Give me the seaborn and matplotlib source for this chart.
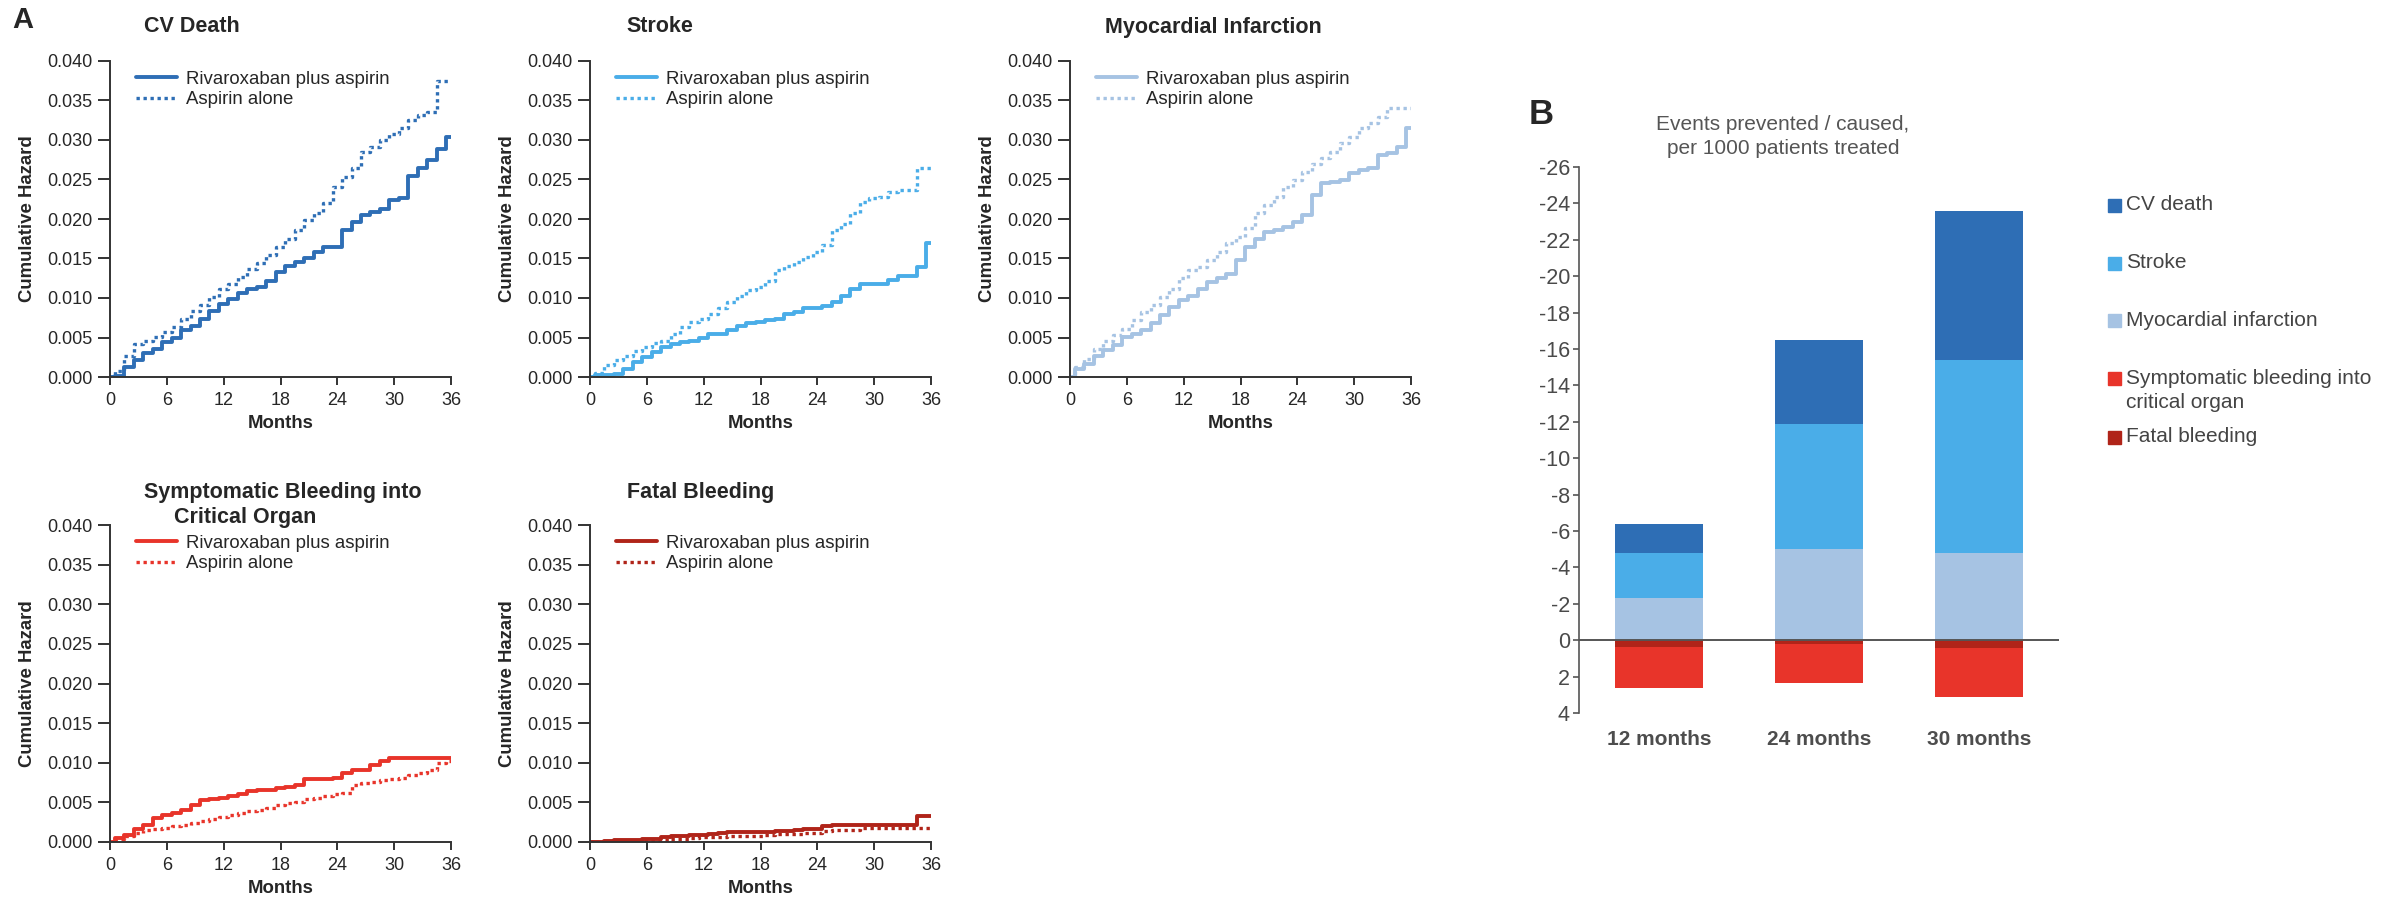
import numpy as np
import matplotlib
matplotlib.use('Agg')
import matplotlib.pyplot as plt
from matplotlib.patches import Rectangle
from matplotlib.ticker import FormatStrFormatter
import seaborn as sns

# ---- data (cumulative hazard, monthly) ----
months = list(range(37))

cv_riva = [0, 0.0001, 0.0013, 0.0021, 0.0030, 0.0036, 0.0044, 0.0049, 0.0059, 0.0065,
           0.0074, 0.0084, 0.0093, 0.0099, 0.0106, 0.0112, 0.0114, 0.0122, 0.0133, 0.0141,
           0.0146, 0.0150, 0.0158, 0.0164, 0.0165, 0.0186, 0.0196, 0.0205, 0.0209, 0.0213,
           0.0224, 0.0226, 0.0255, 0.0264, 0.0275, 0.0289, 0.0304]
cv_asp = [0, 0.0008, 0.0027, 0.0042, 0.0046, 0.0051, 0.0057, 0.0063, 0.0074, 0.0084,
          0.0091, 0.0101, 0.0112, 0.0118, 0.0127, 0.0137, 0.0144, 0.0154, 0.0165, 0.0175,
          0.0186, 0.0199, 0.0207, 0.0220, 0.0241, 0.0253, 0.0264, 0.0285, 0.0291, 0.0300,
          0.0308, 0.0315, 0.0325, 0.0332, 0.0336, 0.0375, 0.0375]

stroke_riva = [0, 0.0002, 0.0003, 0.0004, 0.0010, 0.0019, 0.0025, 0.0032, 0.0038, 0.0042,
               0.0044, 0.0046, 0.0049, 0.0055, 0.0055, 0.0059, 0.0064, 0.0068, 0.0070, 0.0072,
               0.0074, 0.0080, 0.0082, 0.0087, 0.0087, 0.0090, 0.0095, 0.0103, 0.0111, 0.0118,
               0.0118, 0.0118, 0.0123, 0.0128, 0.0128, 0.0139, 0.0170]
stroke_asp = [0, 0.0005, 0.0015, 0.0021, 0.0027, 0.0033, 0.0038, 0.0043, 0.0046, 0.0055,
              0.0063, 0.0070, 0.0074, 0.0080, 0.0087, 0.0095, 0.0103, 0.0110, 0.0114, 0.0122,
              0.0135, 0.0141, 0.0146, 0.0152, 0.0158, 0.0167, 0.0186, 0.0194, 0.0207, 0.0222,
              0.0226, 0.0228, 0.0234, 0.0237, 0.0237, 0.0264, 0.0264]

mi_riva = [0, 0.0010, 0.0017, 0.0027, 0.0034, 0.0040, 0.0051, 0.0055, 0.0059, 0.0068,
           0.0078, 0.0089, 0.0097, 0.0103, 0.0112, 0.0120, 0.0125, 0.0131, 0.0148, 0.0165,
           0.0175, 0.0184, 0.0186, 0.0190, 0.0196, 0.0205, 0.0230, 0.0245, 0.0247, 0.0249,
           0.0258, 0.0262, 0.0264, 0.0281, 0.0283, 0.0291, 0.0315]
mi_asp = [0, 0.0013, 0.0023, 0.0036, 0.0046, 0.0053, 0.0061, 0.0072, 0.0082, 0.0091,
          0.0101, 0.0112, 0.0125, 0.0135, 0.0139, 0.0148, 0.0158, 0.0169, 0.0177, 0.0188,
          0.0207, 0.0218, 0.0228, 0.0241, 0.0249, 0.0260, 0.0270, 0.0277, 0.0285, 0.0296,
          0.0304, 0.0315, 0.0321, 0.0329, 0.0340, 0.0340, 0.0340]

crit_riva = [0, 0.0005, 0.0009, 0.0016, 0.0022, 0.0030, 0.0034, 0.0037, 0.0041, 0.0047,
             0.0053, 0.0054, 0.0055, 0.0058, 0.0061, 0.0064, 0.0065, 0.0066, 0.0068, 0.0070,
             0.0072, 0.0079, 0.0080, 0.0080, 0.0081, 0.0087, 0.0091, 0.0091, 0.0097, 0.0102,
             0.0106, 0.0106, 0.0106, 0.0106, 0.0106, 0.0106, 0.0106]
crit_asp = [0, 0.0004, 0.0007, 0.0011, 0.0015, 0.0016, 0.0018, 0.0020, 0.0022, 0.0024,
            0.0027, 0.0029, 0.0032, 0.0034, 0.0036, 0.0039, 0.0041, 0.0043, 0.0047, 0.0049,
            0.0051, 0.0054, 0.0055, 0.0058, 0.0060, 0.0062, 0.0072, 0.0074, 0.0076, 0.0078,
            0.0079, 0.0081, 0.0085, 0.0087, 0.0091, 0.0100, 0.0102]

fatal_riva = [0, 0, 0.0001, 0.0002, 0.0002, 0.0003, 0.0004, 0.0004, 0.0006, 0.0008,
              0.0008, 0.0009, 0.0009, 0.0010, 0.0011, 0.0012, 0.0012, 0.0012, 0.0012, 0.0013,
              0.0014, 0.0014, 0.0015, 0.0016, 0.0016, 0.0020, 0.0022, 0.0022, 0.0022, 0.0022,
              0.0022, 0.0022, 0.0022, 0.0022, 0.0022, 0.0033, 0.0033]
fatal_asp = [0, 0, 0, 0.0001, 0.0001, 0.0001, 0.0002, 0.0002, 0.0003, 0.0004,
             0.0004, 0.0005, 0.0006, 0.0006, 0.0006, 0.0007, 0.0007, 0.0008, 0.0008, 0.0009,
             0.0010, 0.0010, 0.0010, 0.0011, 0.0011, 0.0014, 0.0015, 0.0015, 0.0015, 0.0018,
             0.0018, 0.0018, 0.0018, 0.0018, 0.0018, 0.0018, 0.0018]

# panel B: events per 1000 patients (prevented shown as negative)
periods = ['12 months', '24 months', '30 months']
mi_prev = [2.3, 5.0, 4.8]
stroke_prev = [2.5, 6.9, 10.6]
cv_prev = [1.6, 4.6, 8.2]
crit_caused = [2.25, 2.15, 2.65]
fatal_caused = [0.35, 0.2, 0.45]

c_cv, c_stroke, c_mi = '#2E6EB5', '#4AADE8', '#A6C3E3'
c_crit, c_fatal = '#E8342A', '#B02419'

sns.set_style('ticks')
plt.rcParams['font.family'] = ['Liberation Sans', 'DejaVu Sans']
plt.rcParams['axes.unicode_minus'] = False

W, H = 2402, 898
fig = plt.figure(figsize=(W / 100, H / 100), dpi=100)


def box(l, t, r, b):
    return [l / W, 1 - b / H, (r - l) / W, (b - t) / H]


def ftext(x, y, s, **kw):
    fig.text(x / W, 1 - y / H, s, **kw)


def km_panel(rect, riva, asp, color):
    ax = fig.add_axes(box(*rect))
    sns.lineplot(x=months, y=riva, ax=ax, color=color, lw=2.8, drawstyle='steps-mid',
                 label='Rivaroxaban plus aspirin')
    sns.lineplot(x=months, y=asp, ax=ax, color=color, lw=2.4, ls=(0, (1, 1.1)),
                 drawstyle='steps-mid', label='Aspirin alone')
    ax.set_xlim(0, 36)
    ax.set_ylim(0, 0.04)
    ax.set_xticks(range(0, 37, 6))
    ax.set_yticks(np.arange(0, 0.0401, 0.005))
    ax.yaxis.set_major_formatter(FormatStrFormatter('%.3f'))
    ax.tick_params(axis='y', length=8.5, width=1.4, labelsize=13, pad=4, color='#333333')
    ax.tick_params(axis='x', length=5.5, width=1.4, labelsize=13, pad=5, color='#333333')
    sns.despine(ax=ax)
    for s in ('left', 'bottom'):
        ax.spines[s].set_linewidth(1.4)
        ax.spines[s].set_color('#333333')
    ax.set_xlabel('Months', fontsize=13.4, fontweight='bold')
    ax.set_ylabel('Cumulative Hazard', fontsize=13.4, fontweight='bold')
    ax.xaxis.set_label_coords(0.5, -0.12)
    ax.yaxis.set_label_coords(-0.217, 0.5)
    ax.legend(loc='upper left', bbox_to_anchor=(0.075, 0.97), frameon=False, fontsize=13.4,
              handlelength=2.2, handletextpad=0.5, labelspacing=0.2, borderpad=0,
              borderaxespad=0)
    return ax


km_panel((110, 61, 451, 377), cv_riva, cv_asp, c_cv)
km_panel((590, 61, 931, 377), stroke_riva, stroke_asp, c_stroke)
km_panel((1070, 61, 1411, 377), mi_riva, mi_asp, c_mi)
km_panel((110, 525, 451, 842), crit_riva, crit_asp, c_crit)
km_panel((590, 525, 931, 842), fatal_riva, fatal_asp, c_fatal)

tkw = dict(fontsize=15.5, fontweight='bold', ha='left', va='center')
ftext(144, 27, 'CV Death', **tkw)
ftext(626, 27, 'Stroke', **tkw)
ftext(1105, 27, 'Myocardial Infarction', **tkw)
ftext(144, 492, 'Symptomatic Bleeding into', **tkw)
ftext(174, 517, 'Critical Organ', **tkw)
ftext(627, 492, 'Fatal Bleeding', **tkw)
ftext(23, 20, 'A', fontsize=21, fontweight='bold', ha='center', va='center')
ftext(1541, 115, 'B', fontsize=25, fontweight='bold', ha='center', va='center')

# ---- panel B: stacked bars (drawn as cumulative overlays) ----
axb = fig.add_axes(box(1579, 167, 2059, 713))
prev_mi = -np.array(mi_prev)
prev_ms = prev_mi - np.array(stroke_prev)
prev_all = prev_ms - np.array(cv_prev)
caused_all = np.array(crit_caused) + np.array(fatal_caused)
caused_fatal = np.array(fatal_caused)

bkw = dict(ax=axb, width=0.555, saturation=1, linewidth=0, errorbar=None)
sns.barplot(x=periods, y=prev_all, color=c_cv, **bkw)
sns.barplot(x=periods, y=prev_ms, color=c_stroke, **bkw)
sns.barplot(x=periods, y=prev_mi, color=c_mi, **bkw)
sns.barplot(x=periods, y=caused_all, color=c_crit, **bkw)
sns.barplot(x=periods, y=caused_fatal, color=c_fatal, **bkw)

axb.set_xlim(-0.5, 2.5)
axb.set_ylim(4, -26)
axb.set_yticks(range(-26, 5, 2))
axb.axhline(0, color='#555555', lw=1.4)
sns.despine(ax=axb, bottom=True)
axb.spines['left'].set_color('#555555')
axb.spines['left'].set_linewidth(1.2)
axb.tick_params(axis='y', length=4.5, width=1.2, color='#555555', labelsize=15.5,
                labelcolor='#4a4a4a', pad=2)
axb.tick_params(axis='x', length=0, labelsize=15, labelcolor='#4d4d4d', pad=12)
for lab in axb.get_xticklabels():
    lab.set_fontweight('bold')
axb.set_xlabel('')
axb.set_ylabel('')

ftext(1783, 124, 'Events prevented / caused,', fontsize=15, color='#555555',
      ha='center', va='center')
ftext(1783, 148, 'per 1000 patients treated', fontsize=15, color='#555555',
      ha='center', va='center')

# legend for panel B
leg_items = [(205, c_cv, 'CV death'), (263, c_stroke, 'Stroke'),
             (320, c_mi, 'Myocardial infarction'),
             (379, c_crit, 'Symptomatic bleeding into'), (437, c_fatal, 'Fatal bleeding')]
for y, col, lab in leg_items:
    fig.patches.append(Rectangle((2108 / W, 1 - (y + 6.5) / H), 13 / W, 13 / H,
                                 transform=fig.transFigure, color=col))
    ftext(2126, y, lab, fontsize=15, color='#444444', ha='left', va='center')
ftext(2126, 403, 'critical organ', fontsize=15, color='#444444', ha='left', va='center')

fig.savefig('out.png', dpi=100)
